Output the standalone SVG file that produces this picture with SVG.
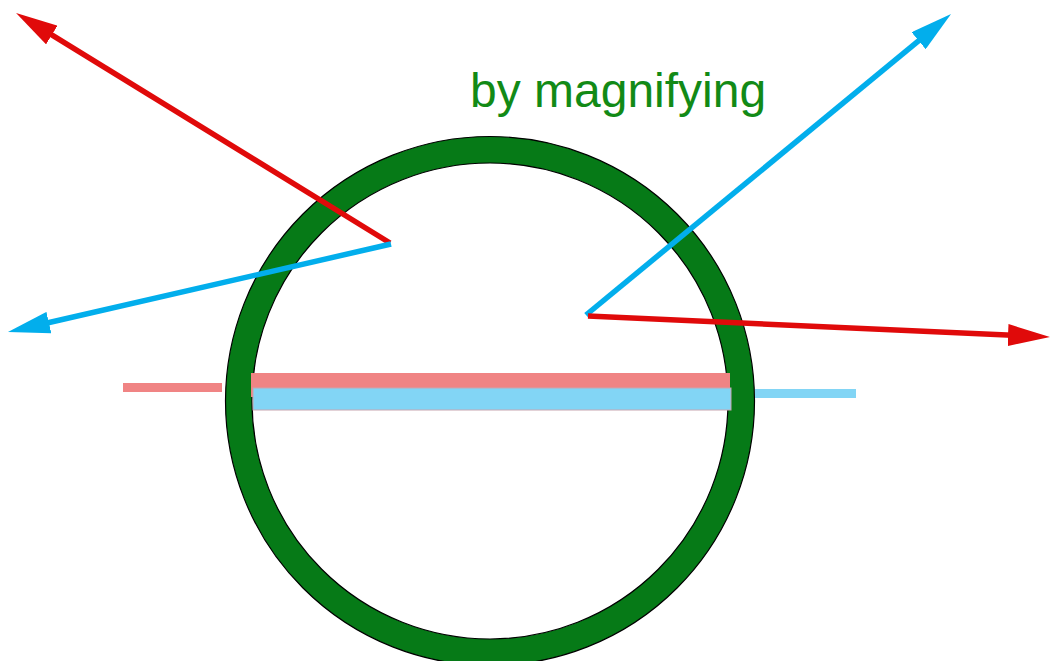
<svg xmlns="http://www.w3.org/2000/svg" width="1050" height="661" viewBox="0 0 1050 661">
  <style>
    .ring { fill: #067a17; stroke: #000; stroke-width: 1.2; fill-rule: evenodd; }
    .red { stroke: #e00a0a; stroke-width: 5.5; fill: none; }
    .blue { stroke: #02aeec; stroke-width: 5.5; fill: none; }
    .label { font-family: "Liberation Sans", Arial, sans-serif; font-size: 48px; fill: #128a16; }
  </style>
  <defs>
    <marker id="headRed" markerUnits="userSpaceOnUse" markerWidth="42" markerHeight="22" viewBox="0 0 42 22" refX="12" refY="11" orient="auto">
      <path d="M0,0 L42,11 L0,22 z" fill="#e00a0a"/>
    </marker>
    <marker id="headBlue" markerUnits="userSpaceOnUse" markerWidth="42" markerHeight="22" viewBox="0 0 42 22" refX="12" refY="11" orient="auto">
      <path d="M0,0 L42,11 L0,22 z" fill="#02aeec"/>
    </marker>
  </defs>
  <rect width="1050" height="661" fill="#fff"/>
  <g id="lens">
    <path class="ring" d="M225.5,401 a264.5,264.5 0 1,0 529,0 a264.5,264.5 0 1,0 -529,0 Z M252,401 a238,238 0 1,0 476,0 a238,238 0 1,0 -476,0 Z"/>
  </g>
  <g id="bars">
    <rect x="123" y="383" width="99" height="9" fill="#f08484"/>
    <rect x="251" y="373" width="479" height="24" fill="#f08484"/>
    <rect x="253" y="388" width="478" height="22" fill="#82d5f5" stroke="#c8a6b0" stroke-width="1"/>
    <rect x="755" y="389" width="101" height="9" fill="#82d5f5"/>
  </g>
  <g id="label">
    <text class="label" x="470" y="107">by magnifying</text>
  </g>
  <g id="connectors">
    <line class="red" x1="390" y1="243" x2="41.6" y2="28.7" marker-end="url(#headRed)"/>
    <line class="blue" x1="391" y1="244" x2="37.2" y2="325.3" marker-end="url(#headBlue)"/>
    <line class="blue" x1="586" y1="315" x2="927.9" y2="33.1" marker-end="url(#headBlue)"/>
    <line class="red" x1="588" y1="316" x2="1020" y2="335.6" marker-end="url(#headRed)"/>
  </g>
</svg>
